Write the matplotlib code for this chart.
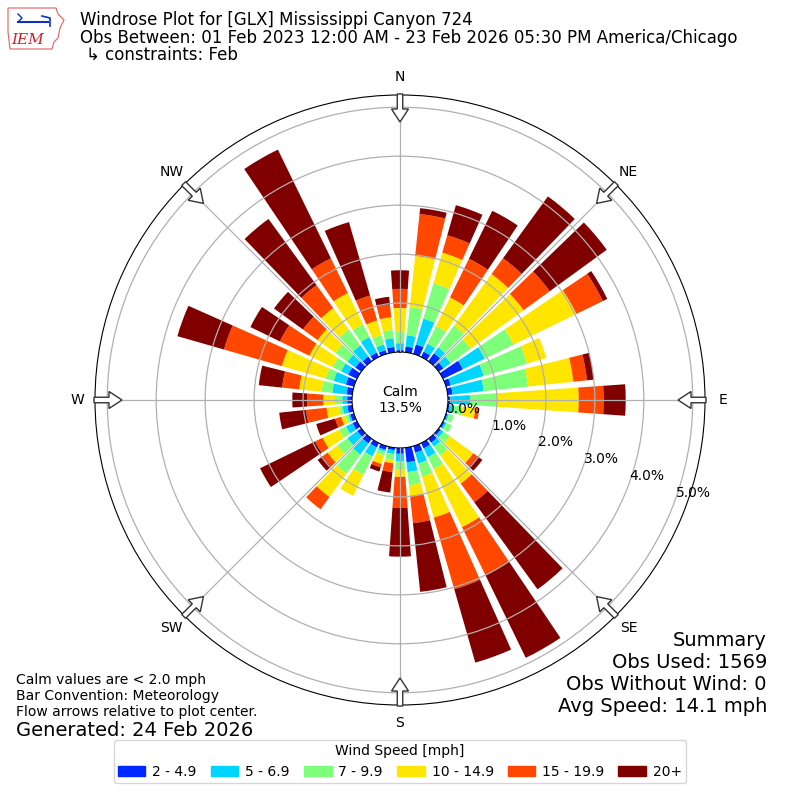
import numpy as np
import matplotlib
matplotlib.use("Agg")
import matplotlib.pyplot as plt
from matplotlib.patches import FancyArrow, Patch, Polygon
from matplotlib.transforms import offset_copy

# wind directions (deg, meteorological) and cumulative frequency (%) at top of each speed band
directions = np.arange(0, 360, 10)
top_2 = [0.04, 0.12, 0.20, 0.12, 0.20, 0.12, 0.45, 0.10, 0.10, 0.05, 0.03, 0.03,
         0.04, 0.05, 0.10, 0.12, 0.14, 0.30, 0.12, 0.05, 0.08, 0.10, 0.12, 0.10,
         0.10, 0.08, 0.10, 0.10, 0.12, 0.17, 0.20, 0.15, 0.12, 0.10, 0.08, 0.11]
top_5 = [0.18, 0.35, 0.75, 0.30, 0.35, 0.30, 0.95, 0.80, 0.74, 0.45, 0.12, 0.06,
         0.08, 0.12, 0.20, 0.32, 0.37, 0.50, 0.27, 0.13, 0.12, 0.30, 0.40, 0.35,
         0.25, 0.12, 0.20, 0.20, 0.41, 0.43, 0.36, 0.35, 0.40, 0.45, 0.20, 0.29]
top_7 = [0.41, 0.93, 1.50, 0.70, 0.90, 0.80, 1.60, 1.72, 1.65, 1.00, 0.30, 0.16,
         0.20, 0.28, 0.42, 0.59, 0.65, 0.77, 0.43, 0.25, 0.20, 0.72, 0.88, 0.60,
         0.40, 0.18, 0.27, 0.35, 0.63, 0.60, 0.55, 0.65, 0.80, 0.74, 0.40, 0.46]
top_10 = [0.90, 1.98, 2.15, 1.35, 2.20, 2.14, 3.03, 2.13, 2.58, 2.67, 0.57, 0.16,
          0.20, 0.87, 1.13, 1.91, 1.52, 0.99, 0.59, 0.32, 0.38, 1.20, 1.47, 0.85,
          0.78, 0.27, 0.53, 0.59, 1.09, 1.53, 1.08, 1.10, 1.34, 1.45, 0.71, 0.72]
top_15 = [1.29, 2.84, 2.52, 2.23, 2.60, 2.80, 3.63, 2.13, 2.86, 3.18, 0.65, 0.16,
          0.20, 0.98, 1.60, 2.99, 3.04, 1.55, 1.22, 0.50, 0.45, 1.20, 1.78, 0.98,
          0.95, 0.40, 0.95, 0.92, 1.44, 2.76, 1.75, 1.47, 1.92, 2.24, 1.24, 0.98]
top_20 = [1.67, 2.96, 3.16, 3.32, 4.16, 4.24, 3.73, 2.13, 3.00, 3.63, 0.65, 0.16,
          0.20, 1.10, 3.80, 4.88, 4.60, 2.96, 2.22, 0.92, 0.54, 1.20, 1.78, 1.10,
          2.20, 0.80, 1.50, 1.22, 1.92, 3.75, 2.42, 2.20, 3.59, 4.71, 2.80, 1.14]
bin_labels = ["2 - 4.9", "5 - 6.9", "7 - 9.9", "10 - 14.9", "15 - 19.9", "20+"]
calm_pct = 13.5
ring_values = [0, 1, 2, 3, 4, 5]
compass = ["N", "NE", "E", "SE", "S", "SW", "W", "NW"]

tops = np.array([top_2, top_5, top_7, top_10, top_15, top_20])
colors = plt.cm.jet(np.linspace(0, 1, 7))[1:]

fig = plt.figure(figsize=(8, 8), dpi=100)
ax = fig.add_axes([0.11875, 0.11875, 0.7625, 0.7625], projection="polar")
ax.set_theta_zero_location("N")
ax.set_theta_direction(-1)
ax.set_rorigin(-0.98)
ax.set_ylim(0, 5.25)

theta = np.radians(directions)
width = np.radians(8)
prev = np.zeros(len(directions))
handles = []
for k in range(6):
    ax.bar(theta, tops[k] - prev, bottom=prev, width=width, color=colors[k],
           edgecolor="none", zorder=1)
    handles.append(Patch(color=colors[k], label=bin_labels[k]))
    prev = tops[k]

ax.set_yticks(ring_values[1:])
ax.set_yticklabels([])
ax.set_xticks(np.radians(np.arange(0, 360, 45)))
ax.set_xticklabels(compass, fontsize=10)
ax.tick_params(axis="x", pad=2.5)
ax.grid(True, color="#b0b0b0", lw=0.9)
ax.set_axisbelow(False)

lab_tr = offset_copy(ax.transData, fig=fig, x=18, y=7.5, units="dots")
for v in ring_values:
    ax.text(np.radians(110), v, "%.1f%%" % v, transform=lab_tr,
            ha="center", va="center", fontsize=10, zorder=5)

ax.text(0.5, 0.5, "Calm\n%.1f%%" % calm_pct, transform=ax.transAxes,
        ha="center", va="center", fontsize=10)

# flow arrows
for b in range(0, 360, 45):
    sx, sy = np.sin(np.radians(b)), np.cos(np.radians(b))
    arr = FancyArrow(0.5 + 306 / 800 * sx, 0.5 + 306 / 800 * sy,
                     -28 / 800 * sx, -28 / 800 * sy,
                     width=5.5 / 800, head_width=17 / 800, head_length=13 / 800,
                     length_includes_head=True, transform=fig.transFigure,
                     fc="white", ec="#333333", lw=1, zorder=10)
    fig.add_artist(arr)

# titles
fig.text(80 / 800, 1 - 20 / 800, "Windrose Plot for [GLX] Mississippi Canyon 724",
         fontsize=12, va="center")
fig.text(80 / 800, 1 - 38 / 800,
         "Obs Between: 01 Feb 2023 12:00 AM - 23 Feb 2026 05:30 PM America/Chicago",
         fontsize=12, va="center")
fig.text(86 / 800, 1 - 55 / 800, "\u21b3 constraints: Feb", fontsize=12, va="center")

# logo
lax = fig.add_axes([6 / 800, 1 - 52 / 800, 60 / 800, 46 / 800])
lax.set_xlim(0, 60)
lax.set_ylim(0, 46)
lax.axis("off")
lax.add_patch(Polygon([[2, 44], [50, 44], [52, 38], [58, 32], [54, 24], [52, 14],
                       [48, 10], [46, 3], [4, 3], [2, 20]],
                      closed=True, fill=False, ec="#e06060", lw=0.8))
lax.plot([12, 42], [30, 30], color="#1030c0", lw=1.5)
lax.plot([12, 16, 12], [38, 34, 30], color="#1030c0", lw=1)
lax.plot([36, 44, 44], [36, 34, 26], color="#1030c0", lw=1.2)
lax.text(22, 12, "IEM", color="#d02020", fontsize=11, family="serif",
         style="italic", ha="center", va="center")

# notes
fig.text(16 / 800, 1 - 680 / 800, "Calm values are < 2.0 mph", fontsize=10, va="center")
fig.text(16 / 800, 1 - 696 / 800, "Bar Convention: Meteorology", fontsize=10, va="center")
fig.text(16 / 800, 1 - 712 / 800, "Flow arrows relative to plot center.", fontsize=10,
         va="center")
fig.text(16 / 800, 1 - 730 / 800, "Generated: 24 Feb 2026", fontsize=14, va="center")

summary = ["Summary", "Obs Used: 1569", "Obs Without Wind: 0", "Avg Speed: 14.1 mph"]
for i, s in enumerate(summary):
    fig.text(767 / 800, 1 - (640 + 22 * i) / 800, s, fontsize=14, ha="right", va="center")

fig.legend(handles=handles, loc="lower center", bbox_to_anchor=(0.5, 0.0125), ncol=6,
           title="Wind Speed [mph]", fontsize=10, title_fontsize=10,
           handletextpad=0.5, columnspacing=1.0, borderpad=0.3)

fig.savefig("out.png", dpi=100)
